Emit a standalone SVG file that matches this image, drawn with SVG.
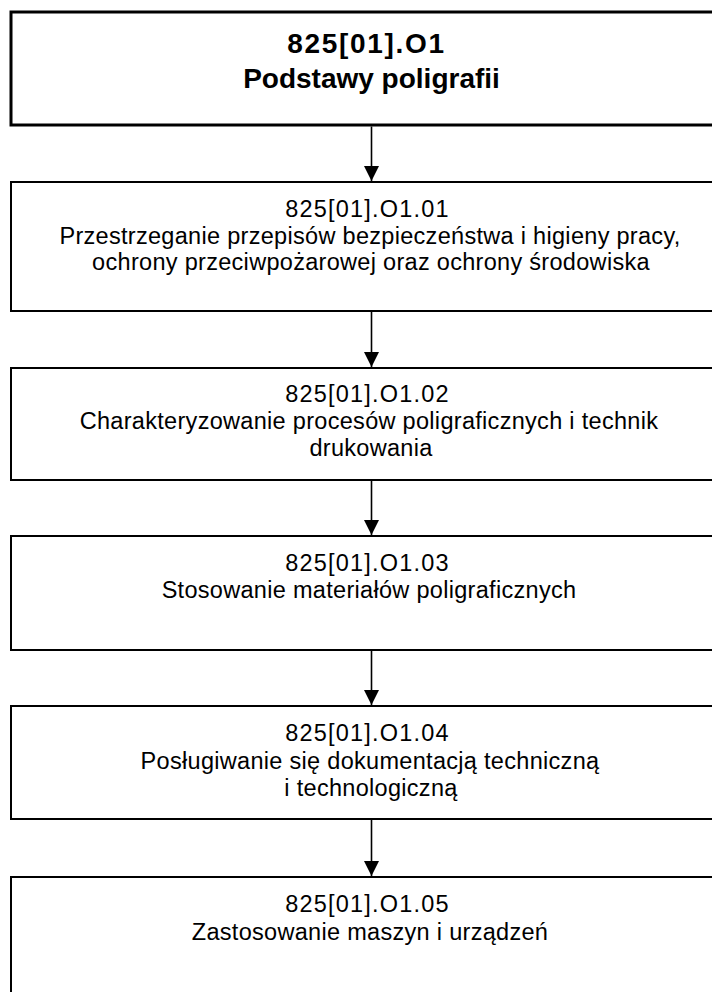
<svg xmlns="http://www.w3.org/2000/svg" width="712" height="992" viewBox="0 0 712 992">
<style>
.box{fill:#fff;stroke:#000;stroke-width:2}
.main{fill:#fff;stroke:#000;stroke-width:3}
.t{font-family:"Liberation Sans",Arial,sans-serif;font-size:23.5px;text-anchor:middle;fill:#000;letter-spacing:0.3px}
.code{letter-spacing:1.2px}
.tb{font-family:"Liberation Sans",Arial,sans-serif;font-size:28px;font-weight:bold;text-anchor:middle;fill:#000}
.tbc{letter-spacing:1.7px}
.c{stroke:#000;stroke-width:1.6;fill:none}
</style>
<defs>
<marker id="ah" markerUnits="userSpaceOnUse" markerWidth="16" markerHeight="16" viewBox="0 0 16 16" refX="15" refY="8" orient="auto">
<path d="M0,0.5 L15,8 L0,15.5 Z" fill="#000"/>
</marker>
</defs>
<rect width="712" height="992" fill="#fff"/>
<g id="n0">
<rect class="main" x="11" y="12" width="722" height="113"/>
<text class="tb tbc" x="366.5" y="53">825[01].O1</text>
<text class="tb" x="371.5" y="88">Podstawy poligrafii</text>
</g>
<g id="n1">
<rect class="box" x="11" y="182" width="722" height="129"/>
<text class="t code" x="367.5" y="216.5">825[01].O1.01</text>
<text class="t" x="370" y="243.5">Przestrzeganie przepisów bezpieczeństwa i higieny pracy,</text>
<text class="t" x="371" y="270">ochrony przeciwpożarowej oraz ochrony środowiska</text>
</g>
<g id="n2">
<rect class="box" x="11" y="368" width="722" height="112"/>
<text class="t code" x="367.5" y="402">825[01].O1.02</text>
<text class="t" x="369" y="429">Charakteryzowanie procesów poligraficznych i technik</text>
<text class="t" x="371" y="456">drukowania</text>
</g>
<g id="n3">
<rect class="box" x="11" y="536" width="722" height="114"/>
<text class="t code" x="367.5" y="570.5">825[01].O1.03</text>
<text class="t" x="369" y="597.5">Stosowanie materiałów poligraficznych</text>
</g>
<g id="n4">
<rect class="box" x="11" y="706" width="722" height="113"/>
<text class="t code" x="367.5" y="741">825[01].O1.04</text>
<text class="t" x="370" y="769">Posługiwanie się dokumentacją techniczną</text>
<text class="t" x="371" y="796">i technologiczną</text>
</g>
<g id="n5">
<rect class="box" x="11" y="877" width="722" height="130"/>
<text class="t code" x="367.5" y="912">825[01].O1.05</text>
<text class="t" x="370" y="940">Zastosowanie maszyn i urządzeń</text>
</g>
<g id="connectors">
<line class="c" x1="371.5" y1="126.5" x2="371.5" y2="181" marker-end="url(#ah)"/>
<line class="c" x1="371.5" y1="312" x2="371.5" y2="367" marker-end="url(#ah)"/>
<line class="c" x1="371.5" y1="481" x2="371.5" y2="535" marker-end="url(#ah)"/>
<line class="c" x1="371.5" y1="651" x2="371.5" y2="705" marker-end="url(#ah)"/>
<line class="c" x1="371.5" y1="820" x2="371.5" y2="876" marker-end="url(#ah)"/>
</g>
</svg>
